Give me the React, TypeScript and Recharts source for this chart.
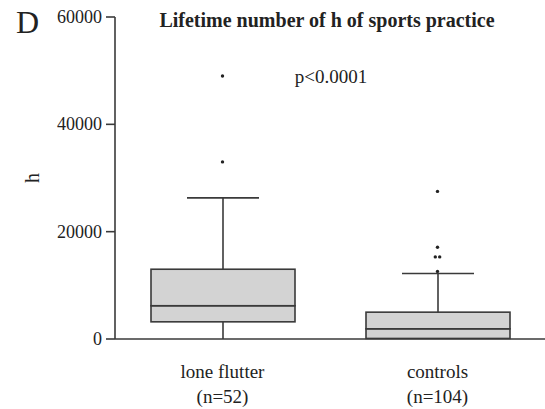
import React from "react";
import { ComposedChart, Bar, Scatter, XAxis, YAxis } from "recharts";

const groups = ["lone flutter", "controls"];
const groupSizes = ["(n=52)", "(n=104)"];
const minValues = [0, 0];
const q1Values = [3200, 100];
const medianValues = [6200, 1900];
const q3Values = [13000, 5000];
const maxValues = [26300, 12200];
// outliers per group (null = none)
const outlierA = [49000, 27500];
const outlierB = [33000, 17100];
const outlierC = [null, 12600];
const outlierPair = [null, 15300];
const yTicks = [0, 20000, 40000, 60000];

const FONT = "'Liberation Serif', 'Times New Roman', serif";
const STROKE = "#3a3a3a";
const BOX_FILL = "#d3d3d3";

const data = groups.map((g, i) => ({
  group: g,
  n: groupSizes[i],
  base: minValues[i],
  lowWhisker: q1Values[i] - minValues[i],
  boxLow: medianValues[i] - q1Values[i],
  boxHigh: q3Values[i] - medianValues[i],
  highWhisker: maxValues[i] - q3Values[i],
  outA: outlierA[i],
  outB: outlierB[i],
  outC: outlierC[i],
  outPair: outlierPair[i],
}));

const LowWhisker = (props: any) => {
  const { x, y, width, height } = props;
  const cx = x + width / 2;
  return <line x1={cx} x2={cx} y1={y} y2={y + height} stroke={STROKE} strokeWidth={1.6} />;
};

const HighWhisker = (props: any) => {
  const { x, y, width, height } = props;
  const cx = x + width / 2;
  return (
    <g>
      <line x1={cx} x2={cx} y1={y} y2={y + height} stroke={STROKE} strokeWidth={1.6} />
      <line x1={x + width / 4} x2={x + (width * 3) / 4} y1={y} y2={y} stroke={STROKE} strokeWidth={1.6} />
    </g>
  );
};

const BoxPart = (props: any) => {
  const { x, y, width, height } = props;
  return <rect x={x} y={y} width={width} height={height} fill={BOX_FILL} stroke={STROKE} strokeWidth={1.6} />;
};

const Dot = (props: any) => {
  const { cx, cy } = props;
  if (cx == null || cy == null || isNaN(cy)) return <g />;
  return <circle cx={cx} cy={cy} r={1.7} fill="#222" />;
};

const DotPair = (props: any) => {
  const { cx, cy } = props;
  if (cx == null || cy == null || isNaN(cy)) return <g />;
  return (
    <g>
      <circle cx={cx - 2.2} cy={cy} r={1.7} fill="#222" />
      <circle cx={cx + 2.2} cy={cy} r={1.7} fill="#222" />
    </g>
  );
};

const GroupTick = (props: any) => {
  const { x, y, payload, index } = props;
  return (
    <g>
      <text x={x} y={y + 31} textAnchor="middle" style={{ fontFamily: FONT }} fontSize={19} fill="#222">
        {payload.value}
      </text>
      <text x={x} y={y + 56} textAnchor="middle" style={{ fontFamily: FONT }} fontSize={19} fill="#222">
        {groupSizes[index]}
      </text>
    </g>
  );
};

const ValueTick = (props: any) => {
  const { x, y, payload } = props;
  return (
    <text x={x} y={y} dy={6} textAnchor="end" style={{ fontFamily: FONT }} fontSize={18} fill="#222">
      {payload.value}
    </text>
  );
};

export default function App() {
  return (
    <div style={{ position: "absolute", left: 0, top: 0, width: 545, height: 409, background: "#fff" }}>
      <ComposedChart width={545} height={409} data={data} margin={{ top: 17, right: 0, bottom: 0, left: 0 }} barSize={144}>
        <XAxis
          dataKey="group"
          height={70}
          tickLine={false}
          axisLine={{ stroke: STROKE, strokeWidth: 1.6 }}
          tick={<GroupTick />}
          interval={0}
        />
        <YAxis
          width={115}
          domain={[0, 60000]}
          ticks={yTicks}
          tickLine={{ stroke: STROKE, strokeWidth: 1.6 }}
          tickSize={9}
          axisLine={{ stroke: STROKE, strokeWidth: 1.6 }}
          tick={<ValueTick />}
          tickMargin={4}
        />
        <Bar dataKey="base" stackId="box" fill="transparent" isAnimationActive={false} />
        <Bar dataKey="lowWhisker" stackId="box" shape={<LowWhisker />} isAnimationActive={false} />
        <Bar dataKey="boxLow" stackId="box" shape={<BoxPart />} isAnimationActive={false} />
        <Bar dataKey="boxHigh" stackId="box" shape={<BoxPart />} isAnimationActive={false} />
        <Bar dataKey="highWhisker" stackId="box" shape={<HighWhisker />} isAnimationActive={false} />
        <Scatter dataKey="outA" shape={<Dot />} isAnimationActive={false} />
        <Scatter dataKey="outB" shape={<Dot />} isAnimationActive={false} />
        <Scatter dataKey="outC" shape={<Dot />} isAnimationActive={false} />
        <Scatter dataKey="outPair" shape={<DotPair />} isAnimationActive={false} />
        <text x={16} y={33} style={{ fontFamily: FONT }} fontSize={32} fill="#222">D</text>
        <text x={327} y={27} textAnchor="middle" style={{ fontFamily: FONT }} fontSize={20} fontWeight="bold" fill="#222">
          Lifetime number of h of sports practice
        </text>
        <text x={331} y={83} textAnchor="middle" style={{ fontFamily: FONT }} fontSize={19} fill="#222">p&lt;0.0001</text>
        <text x={39} y={178} textAnchor="middle" style={{ fontFamily: FONT }} fontSize={20} fill="#222" transform="rotate(-90 39 178)">
          h
        </text>
      </ComposedChart>
    </div>
  );
}
